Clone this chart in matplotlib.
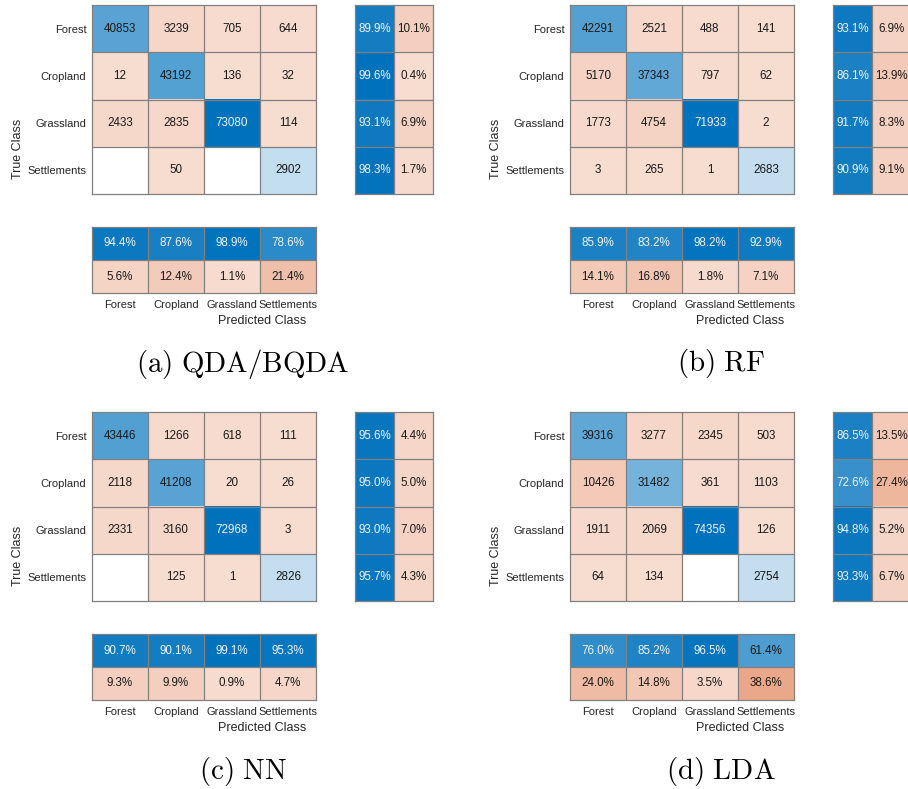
import numpy as np
import matplotlib.pyplot as plt
from matplotlib.colors import to_rgb

plt.rcParams['font.family'] = ['Liberation Sans', 'DejaVu Sans']
plt.rcParams['mathtext.fontset'] = 'cm'

classes = ["Forest", "Cropland", "Grassland", "Settlements"]

# confusion matrices (rows = true class, cols = predicted class)
qda_counts = [[40853, 3239, 705, 644],
              [12, 43192, 136, 32],
              [2433, 2835, 73080, 114],
              [0, 50, 0, 2902]]
qda_row_pct = [[89.9, 10.1], [99.6, 0.4], [93.1, 6.9], [98.3, 1.7]]
qda_col_pct = [[94.4, 87.6, 98.9, 78.6], [5.6, 12.4, 1.1, 21.4]]

rf_counts = [[42291, 2521, 488, 141],
             [5170, 37343, 797, 62],
             [1773, 4754, 71933, 2],
             [3, 265, 1, 2683]]
rf_row_pct = [[93.1, 6.9], [86.1, 13.9], [91.7, 8.3], [90.9, 9.1]]
rf_col_pct = [[85.9, 83.2, 98.2, 92.9], [14.1, 16.8, 1.8, 7.1]]

nn_counts = [[43446, 1266, 618, 111],
             [2118, 41208, 20, 26],
             [2331, 3160, 72968, 3],
             [0, 125, 1, 2826]]
nn_row_pct = [[95.6, 4.4], [95.0, 5.0], [93.0, 7.0], [95.7, 4.3]]
nn_col_pct = [[90.7, 90.1, 99.1, 95.3], [9.3, 9.9, 0.9, 4.7]]

lda_counts = [[39316, 3277, 2345, 503],
              [10426, 31482, 361, 1103],
              [1911, 2069, 74356, 126],
              [64, 134, 0, 2754]]
lda_row_pct = [[86.5, 13.5], [72.6, 27.4], [94.8, 5.2], [93.3, 6.7]]
lda_col_pct = [[76.0, 85.2, 96.5, 61.4], [24.0, 14.8, 3.5, 38.6]]

captions = ["(a)\\ QDA/BQDA", "(b)\\ RF", "(c)\\ NN", "(d)\\ LDA"]

BLUE = np.array(to_rgb("#0072BD"))
RED = np.array(to_rgb("#D95319"))
W, H = 908, 789

fig = plt.figure(figsize=(W / 100, H / 100), dpi=100)


def px_axes(x0, y0, x1, y1):
    # pixel box (top-left origin) -> figure axes
    return fig.add_axes([x0 / W, 1 - y1 / H, (x1 - x0) / W, (y1 - y0) / H])


def cell_color(v, good):
    if v <= 0:
        return np.ones(3), 0
    a = 0.2 + 0.8 * v
    base = BLUE if good else RED
    return (1 - a) + a * base, a


def draw_grid(ax, vals, goods, labels):
    nr, nc = vals.shape
    img = np.ones((nr, nc, 3))
    for i in range(nr):
        for j in range(nc):
            c, a = cell_color(vals[i, j], goods[i, j])
            img[i, j] = c
            txt_col = "#EEF3F8" if a > 0.72 else "#1A1A1A"
            if labels[i][j] != "":
                ax.text(j, i, labels[i][j], ha="center", va="center",
                        fontsize=8.4, color=txt_col)
    ax.imshow(img, aspect="auto", extent=(-0.5, nc - 0.5, nr - 0.5, -0.5))
    for k in range(1, nc):
        ax.axvline(k - 0.5, color="#808080", lw=0.9)
    for k in range(1, nr):
        ax.axhline(k - 0.5, color="#808080", lw=0.9)
    for s in ax.spines.values():
        s.set_color("#808080")
        s.set_linewidth(0.9)
    ax.set_xticks([])
    ax.set_yticks([])


def draw_panel(ox, oy, counts, row_pct, col_pct, caption):
    counts = np.array(counts, dtype=float)
    row_pct = np.array(row_pct) / 100
    col_pct = np.array(col_pct) / 100
    n = len(classes)
    eye = np.eye(n, dtype=bool)

    # main matrix
    ax = px_axes(92 + ox, 5 + oy, 316 + ox, 194 + oy)
    labels = [["" if counts[i, j] == 0 else "%d" % counts[i, j] for j in range(n)] for i in range(n)]
    draw_grid(ax, counts / counts.max(), eye, labels)
    ax.set_yticks(range(n))
    ax.set_yticklabels(classes, fontsize=8, color="#262626")
    ax.tick_params(length=0, pad=4)

    # row summary
    ax_r = px_axes(355 + ox, 5 + oy, 433 + ox, 194 + oy)
    goods = np.array([[True, False]] * n)
    labels = [["%.1f%%" % (100 * v) for v in r] for r in row_pct]
    draw_grid(ax_r, row_pct, goods, labels)

    # column summary
    ax_c = px_axes(92 + ox, 227 + oy, 316 + ox, 293 + oy)
    goods = np.array([[True] * n, [False] * n])
    labels = [["%.1f%%" % (100 * v) for v in r] for r in col_pct]
    draw_grid(ax_c, col_pct, goods, labels)
    ax_c.set_xticks(range(n))
    ax_c.set_xticklabels(classes, fontsize=8, color="#262626")
    ax_c.tick_params(length=0, pad=5)

    fig.text((18 + ox) / W, 1 - (149 + oy) / H, "True Class", rotation=90,
             ha="center", va="center", fontsize=9, color="#262626")
    fig.text((262 + ox) / W, 1 - (321 + oy) / H, "Predicted Class",
             ha="center", va="center", fontsize=9, color="#262626")
    fig.text((243 + ox) / W, 1 - (364 + oy) / H, "$\\mathrm{" + caption + "}$",
             ha="center", va="center", fontsize=20.8, color="black")


draw_panel(0, 0, qda_counts, qda_row_pct, qda_col_pct, captions[0])
draw_panel(478, 0, rf_counts, rf_row_pct, rf_col_pct, captions[1])
draw_panel(0, 407, nn_counts, nn_row_pct, nn_col_pct, captions[2])
draw_panel(478, 407, lda_counts, lda_row_pct, lda_col_pct, captions[3])

fig.savefig("out.png", dpi=100, facecolor="white")
